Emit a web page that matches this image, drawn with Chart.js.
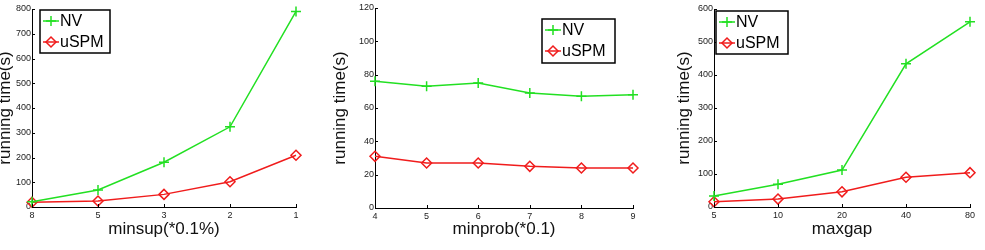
<!DOCTYPE html>
<html>
<head>
<meta charset="utf-8">
<script src="https://cdn.jsdelivr.net/npm/chart.js@4.4.1/dist/chart.umd.min.js"></script>
<style>
  html, body { margin: 0; padding: 0; background: #fff; }
  body { width: 985px; height: 250px; position: relative; overflow: hidden; }
  .panel { position: absolute; top: 0; height: 250px; }
</style>
</head>
<body>
<div class="panel" id="p1" style="left:-3px;width:315px"><canvas id="c1"></canvas></div>
<div class="panel" id="p2" style="left:332px;width:318px"><canvas id="c2"></canvas></div>
<div class="panel" id="p3" style="left:676px;width:309px"><canvas id="c3"></canvas></div>
<script>
// data
const minsupLabels = ['8', '5', '3', '2', '1'];
const minsupNV = [21, 69, 181, 324, 790];
const minsupUSPM = [19, 24, 51, 102, 209];

const minprobLabels = ['4', '5', '6', '7', '8', '9'];
const minprobNV = [76, 73, 75, 69, 67, 68];
const minprobUSPM = [31, 27, 27, 25, 24, 24];

const maxgapLabels = ['5', '10', '20', '40', '80'];
const maxgapNV = [33, 69, 112, 434, 561];
const maxgapUSPM = [16, 24, 46, 90, 104];

const seriesNames = ['NV', 'uSPM'];
const GREEN = '#22e022';
const RED = '#f01c1c';
const FONT = 'Liberation Sans, Arial, Helvetica, sans-serif';

// MATLAB-like inward tick marks, drawn from the chart's own scales
const inwardTicks = {
  id: 'inwardTicks',
  afterDraw(chart) {
    const { ctx, chartArea } = chart;
    const x = chart.scales.x, y = chart.scales.y;
    ctx.save();
    ctx.strokeStyle = '#000';
    ctx.lineWidth = 1;
    ctx.beginPath();
    x.ticks.forEach((t, i) => {
      const px = Math.round(x.getPixelForTick(i)) + 0.5;
      ctx.moveTo(px, chartArea.bottom);
      ctx.lineTo(px, chartArea.bottom - 3);
    });
    y.ticks.forEach((t, i) => {
      const py = Math.round(y.getPixelForTick(i)) + 0.5;
      ctx.moveTo(chartArea.left, py);
      ctx.lineTo(chartArea.left + 3, py);
    });
    ctx.stroke();
    ctx.restore();
  }
};

// boxed legend with line + marker samples
const boxLegend = {
  id: 'boxLegend',
  afterDraw(chart, args, opts) {
    const { ctx } = chart;
    const b = opts.box;
    ctx.save();
    ctx.fillStyle = '#fff';
    ctx.fillRect(b.left, b.top, b.width, b.height);
    ctx.strokeStyle = '#000';
    ctx.lineWidth = 1.5;
    ctx.strokeRect(b.left, b.top, b.width, b.height);
    chart.data.datasets.forEach((ds, i) => {
      const cy = b.top + 11 + i * 21;
      const x0 = b.left + 3, x1 = b.left + 19, cx = (x0 + x1) / 2;
      ctx.strokeStyle = ds.borderColor;
      ctx.fillStyle = 'rgba(0,0,0,0)';
      ctx.lineWidth = 1.5;
      ctx.beginPath();
      ctx.moveTo(x0, cy);
      ctx.lineTo(x1, cy);
      ctx.stroke();
      Chart.helpers.drawPoint(ctx, {
        pointStyle: ds.pointStyle,
        radius: ds.pointRadius,
        borderWidth: 1.5
      }, cx, cy);
      ctx.fillStyle = '#000';
      ctx.font = '16px ' + FONT;
      ctx.textBaseline = 'middle';
      ctx.fillText(ds.label, x1 + 1, cy + 1);
    });
    ctx.restore();
  }
};

function makeChart(id, labels, nv, uspm, opt) {
  const ds = (label, data, color, style, r) => ({
    label: label,
    data: data,
    borderColor: color,
    backgroundColor: 'rgba(0,0,0,0)',
    borderWidth: 1.5,
    pointStyle: style,
    pointRadius: r,
    pointBorderWidth: 1.5,
    pointBorderColor: color,
    pointBackgroundColor: 'rgba(0,0,0,0)',
    tension: 0,
    clip: false
  });
  return new Chart(document.getElementById(id), {
    type: 'line',
    data: {
      labels: labels,
      datasets: [
        ds(seriesNames[0], nv, GREEN, 'cross', 5),
        ds(seriesNames[1], uspm, RED, 'rectRot', 5)
      ]
    },
    options: {
      responsive: true,
      maintainAspectRatio: false,
      animation: false,
      events: [],
      layout: { padding: { left: 0, top: opt.top, right: opt.right, bottom: 12 } },
      plugins: {
        legend: { display: false },
        tooltip: { enabled: false },
        boxLegend: { box: opt.legend }
      },
      scales: {
        x: {
          offset: false,
          grid: { display: false, drawTicks: false, tickLength: 0 },
          border: { display: true, color: '#000', width: 1 },
          ticks: { color: '#222', font: { size: 9, family: FONT }, padding: 3, maxRotation: 0, autoSkip: false },
          title: { display: true, text: opt.xTitle, color: '#111', font: { size: 17, family: FONT, lineHeight: 1 }, padding: 0 },
          afterFit(s) { s.height = opt.xHeight; }
        },
        y: {
          min: 0,
          max: opt.yMax,
          grid: { display: false, drawTicks: false, tickLength: 0 },
          border: { display: true, color: '#000', width: 1 },
          ticks: { stepSize: opt.yStep, color: '#222', font: { size: 9, family: FONT }, padding: 1 },
          title: { display: true, text: 'running time(s)', color: '#111', font: { size: 17, family: FONT, lineHeight: 1 }, padding: 0 },
          afterFit(s) { s.width = opt.yWidth; }
        }
      }
    },
    plugins: [inwardTicks, boxLegend]
  });
}

makeChart('c1', minsupLabels, minsupNV, minsupUSPM, {
  xTitle: 'minsup(*0.1%)', yMax: 800, yStep: 100,
  top: 9, right: 16, xHeight: 31, yWidth: 35,
  legend: { left: 43, top: 10, width: 70, height: 43 }
});
makeChart('c2', minprobLabels, minprobNV, minprobUSPM, {
  xTitle: 'minprob(*0.1)', yMax: 120, yStep: 20,
  top: 8, right: 17, xHeight: 30, yWidth: 43,
  legend: { left: 210, top: 19, width: 73, height: 44 }
});
makeChart('c3', maxgapLabels, maxgapNV, maxgapUSPM, {
  xTitle: 'maxgap', yMax: 600, yStep: 100,
  top: 9, right: 15, xHeight: 31, yWidth: 38,
  legend: { left: 40, top: 11, width: 72, height: 43 }
});
</script>
</body>
</html>
